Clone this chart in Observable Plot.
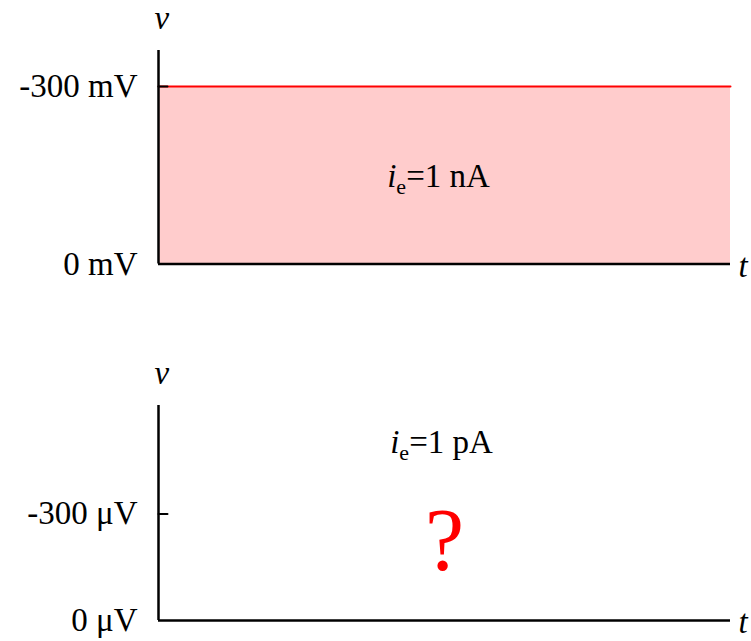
<!DOCTYPE html>
<html>
<head>
<meta charset="utf-8">
<script src="https://cdn.jsdelivr.net/npm/d3@7"></script>
<script src="https://cdn.jsdelivr.net/npm/@observablehq/plot@0.6"></script>
<style>
  html, body { margin: 0; padding: 0; background: #fff; }
  #chart svg { display: block; }
  #chart svg, #chart svg text, #chart svg tspan { font-family: "Liberation Serif", "DejaVu Serif", serif !important; }
</style>
</head>
<body>
<div id="chart"></div>
<script>
// ---- data ----
const topT = [0, 1];
const topV = [-300, -300];          // mV, response to 1 nA
const topTicks = [-300, 0];
const topUnit = "mV";
const topCurrent = "=1 nA";

const bottomTicks = [-300, 0];
const bottomUnit = "\u03BCV";
const bottomCurrent = "=1 pA";
const unknownMark = "?";

const topData = topT.map((t, i) => ({t, v: topV[i]}));

const FONT = "Liberation Serif, serif";
const FS = 33;
const INK = "#000";

const tickShape = {draw(context, l) { context.moveTo(0, 0); context.lineTo(0, -l); }};

function currentLabel(rest) {
  return (index, scales, values, dims, ctx, next) => {
    const g = next(index, scales, values, dims, ctx);
    d3.select(g).selectAll("text").each(function () {
      const t = d3.select(this);
      t.text(null);
      t.append("tspan").attr("font-style", "italic").text("i");
      t.append("tspan").attr("font-size", Math.round(FS * 0.66)).attr("dy", 7).text("e");
      t.append("tspan").attr("dy", -7).text(rest);
    });
    return g;
  };
}

function panel({height, marginTop, marginBottom, yMax, ticks, unit, vDy, marks}) {
  return Plot.plot({
    width: 751,
    height,
    marginLeft: 158,
    marginRight: 21,
    marginTop,
    marginBottom,
    style: {fontFamily: FONT, fontSize: FS + "px", background: "white", overflow: "visible"},
    x: {domain: [0, 1], axis: null},
    y: {domain: [0, yMax], axis: null},
    marks: [
      ...marks,
      Plot.ruleX([0], {stroke: INK, strokeWidth: 2.5}),
      Plot.ruleY([0], {stroke: INK, strokeWidth: 2.5}),
      Plot.vector(ticks.filter(d => d !== 0), {x: 0, y: d => d, length: 9, rotate: 90, anchor: "start", shape: tickShape, stroke: INK, strokeWidth: 2}),
      Plot.axisY({ticks, tickFormat: d => `${d} ${unit}`, tickSize: 0, tickPadding: 21, label: null, fontSize: FS, fill: INK}),
      Plot.text(["v"], {frameAnchor: "top-left", lineAnchor: "middle", dx: -4, dy: vDy, fontStyle: "italic", fontSize: FS, fill: INK}),
      Plot.text(["t"], {frameAnchor: "bottom-right", lineAnchor: "middle", dx: 8, dy: 2, textAnchor: "start", fontStyle: "italic", fontSize: FS, fill: INK})
    ]
  });
}

const topPlot = panel({
  height: 300, marginTop: 50, marginBottom: 36.5, yMax: -361,
  ticks: topTicks, unit: topUnit, vDy: -32,
  marks: [
    Plot.areaY(topData, {x: "t", y1: 0, y2: "v", fill: "#ffcccc"}),
    Plot.lineY(topData, {x: "t", y: "v", stroke: "red", strokeWidth: 2}),
    Plot.text([topCurrent], {frameAnchor: "top", dx: -6, dy: 136, lineAnchor: "bottom", fontSize: FS, fill: INK, render: currentLabel(topCurrent)})
  ]
});

const bottomPlot = panel({
  height: 341, marginTop: 105, marginBottom: 21, yMax: -605,
  ticks: bottomTicks, unit: bottomUnit, vDy: -32,
  marks: [
    Plot.text([bottomCurrent], {frameAnchor: "top", dx: -3, dy: 47, lineAnchor: "bottom", fontSize: FS, fill: INK, render: currentLabel(bottomCurrent)}),
    Plot.text([unknownMark], {frameAnchor: "top", dx: 0, dy: 163, lineAnchor: "bottom", fontSize: 88, fill: "red"})
  ]
});

document.getElementById("chart").append(topPlot, bottomPlot);
</script>
</body>
</html>
